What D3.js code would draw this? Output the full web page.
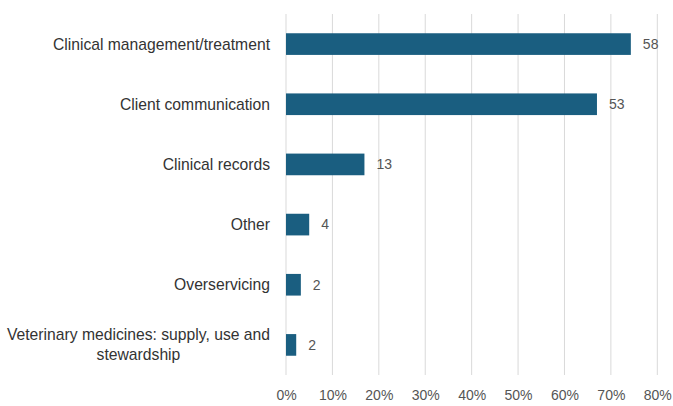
<!DOCTYPE html>
<html>
<head>
<meta charset="utf-8">
<script src="https://cdn.jsdelivr.net/npm/d3@7"></script>
<style>
  body { margin: 0; background: #fff; }
  text { font-family: "Liberation Sans", Arial, sans-serif; }
</style>
</head>
<body>
<div class="chart"></div>
<script>
const WIDTH = 673;
const HEIGHT = 406;

// data
const categories = [
  "Clinical management/treatment",
  "Client communication",
  "Clinical records",
  "Other",
  "Overservicing",
  "Veterinary medicines: supply, use and stewardship",
];
const percents = [74.3, 67.0, 16.9, 5.0, 3.2, 2.2];
const counts = [58, 53, 13, 4, 2, 2];
const ticks = [0, 10, 20, 30, 40, 50, 60, 70, 80];

const margin = { top: 14, bottom: 31, left: 286, right: 16 };

const BAR_COLOR = "#1a5e80";
const LABEL_COLOR = "#333333";
const NUM_COLOR = "#555555";
const GRID_COLOR = "#d9d9d9";
const CAT_SIZE = "15.7px";

const svg = d3
  .select(".chart")
  .append("svg")
  .attr("width", WIDTH)
  .attr("height", HEIGHT);

const x = d3.scaleLinear()
  .domain([0, 80])
  .range([margin.left, WIDTH - 15.7]);

const y = d3.scaleBand()
  .domain(categories)
  .range([margin.top, HEIGHT - margin.bottom])
  .paddingInner(0.64)
  .paddingOuter(0.32);

// gridlines
svg.append("g")
  .selectAll("line")
  .data(ticks)
  .join("line")
  .attr("x1", (d) => x(d)).attr("x2", (d) => x(d))
  .attr("y1", margin.top).attr("y2", HEIGHT - margin.bottom)
  .attr("stroke", GRID_COLOR)
  .attr("stroke-width", 1);

// x axis labels
const xAxis = d3.axisBottom(x)
  .tickValues(ticks)
  .tickFormat((d) => d + "%")
  .tickSize(0)
  .tickPadding(0);

svg.append("g")
  .attr("transform", `translate(0, ${HEIGHT - margin.bottom + 15})`)
  .call(xAxis)
  .call((g) => g.select(".domain").remove())
  .selectAll("text")
  .attr("font-size", "14px")
  .attr("fill", NUM_COLOR)
  .attr("font-family", "Liberation Sans, Arial, sans-serif");

// bars
const rows = categories.map((c, i) => ({ cat: c, pct: percents[i], n: counts[i] }));

svg.append("g")
  .selectAll("rect")
  .data(rows)
  .join("rect")
  .attr("x", x(0))
  .attr("y", (d) => y(d.cat))
  .attr("width", (d) => x(d.pct) - x(0))
  .attr("height", y.bandwidth())
  .attr("fill", BAR_COLOR);

// value labels
svg.append("g")
  .selectAll("text")
  .data(rows)
  .join("text")
  .attr("x", (d) => x(d.pct) + 12)
  .attr("y", (d) => y(d.cat) + y.bandwidth() / 2)
  .attr("dy", "0.35em")
  .attr("font-size", "14px")
  .attr("fill", NUM_COLOR)
  .text((d) => d.n);

// category labels, wrapped like the original
const wrapAt = { "Veterinary medicines: supply, use and stewardship": ["Veterinary medicines: supply, use and", "stewardship"] };

const catLabels = svg.append("g")
  .selectAll("text")
  .data(rows)
  .join("text")
  .attr("font-size", CAT_SIZE)
  .attr("fill", LABEL_COLOR);

catLabels.each(function (d) {
  const el = d3.select(this);
  const lines = wrapAt[d.cat];
  const right = margin.left - 16;
  const yc = y(d.cat) + y.bandwidth() / 2;
  if (!lines) {
    el.attr("x", right).attr("y", yc).attr("dy", "0.35em")
      .attr("text-anchor", "end").text(d.cat);
    return;
  }
  // measure widest line so the block is right aligned and lines centred
  el.attr("text-anchor", "middle");
  const tmp = svg.append("text").attr("font-size", CAT_SIZE).text(lines[0]);
  const w = tmp.node().getComputedTextLength();
  tmp.remove();
  const cx = right - w / 2;
  lines.forEach((ln, k) => {
    el.append("tspan")
      .attr("x", cx)
      .attr("y", yc + (k - (lines.length - 1) / 2) * 20)
      .attr("dy", "0.35em")
      .text(ln);
  });
});
</script>
</body>
</html>
